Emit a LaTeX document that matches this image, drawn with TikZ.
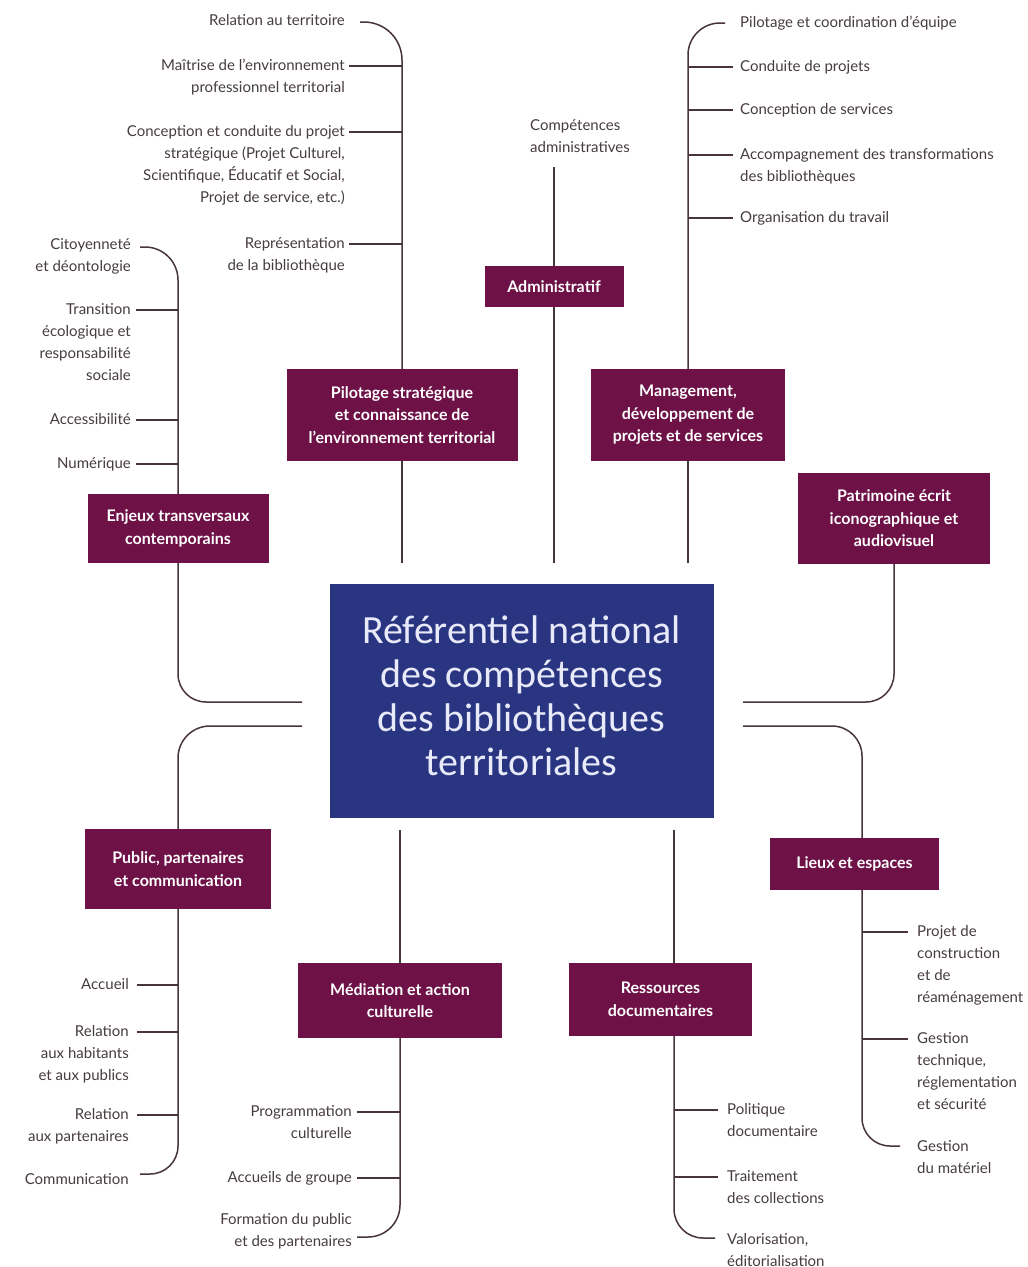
\documentclass[tikz,border=0pt]{standalone}
\usepackage{fontspec}
\setmainfont{Lato}
\newfontfamily\ctrfont{Carlito}
\definecolor{plum}{RGB}{109,17,71}
\definecolor{navy}{RGB}{41,53,128}
\definecolor{hubtext}{RGB}{232,234,250}
\definecolor{lncol}{RGB}{72,52,62}
\definecolor{lblcol}{RGB}{70,60,66}
\newcommand\fstrut{\rule{0pt}{13pt}}
\begin{document}
\begin{tikzpicture}[x=1pt,y=-1pt,
  cat/.style={rectangle, fill=plum, text=white, font=\bfseries\fontsize{16}{22.5}\selectfont, align=center, inner sep=0pt},
  hub/.style={rectangle, fill=navy, text=hubtext, font=\ctrfont\fontsize{40}{44}\selectfont, align=center, inner sep=0pt, minimum width=384pt, minimum height=234pt},
  lblR/.style={font=\fontsize{15}{22}\selectfont, text=lblcol, inner sep=0pt, align=right, anchor=north east, yshift=9pt},
  lblL/.style={font=\fontsize{15}{22}\selectfont, text=lblcol, inner sep=0pt, align=left, anchor=north west, yshift=9pt},
  conn/.style={draw=lncol, line width=1.5pt},
]
\useasboundingbox (0,0) rectangle (1028,1267);
\fill[white] (0,0) rectangle (1028,1267);

% ---------- boxes ----------
\node[hub] (hub) at (521.5,701) {Référentiel national\\des compétences\\des bibliothèques\\territoriales\rule[-10pt]{0pt}{10pt}};
\node[cat, minimum width=139pt, minimum height=41pt] (adm) at (554,286.5) {Administratif};
\node[cat, minimum width=231pt, minimum height=92pt] (pil) at (402,415) {Pilotage stratégique\\et connaissance de\\l'environnement territorial};
\node[cat, minimum width=194pt, minimum height=92pt] (man) at (688,415) {Management,\\développement de\\projets et de services};
\node[cat, minimum width=192pt, minimum height=91pt] (pat) at (894,518.5) {Patrimoine écrit\\iconographique et\\audiovisuel};
\node[cat, minimum width=181pt, minimum height=69pt] (enj) at (178,528.5) {Enjeux transversaux\\contemporains};
\node[cat, minimum width=186pt, minimum height=80pt] (pub) at (178,869) {Public, partenaires\\et communication};
\node[cat, minimum width=204pt, minimum height=75pt] (med) at (400,1000.5) {Médiation et action\\culturelle};
\node[cat, minimum width=183pt, minimum height=73pt] (res) at (660.5,999.5) {Ressources\\documentaires};
\node[cat, minimum width=169pt, minimum height=52pt] (lie) at (854.5,864) {Lieux et espaces};

% ---------- coordinates near the hub ----------
\coordinate (hPil) at (402,563);
\coordinate (hAdm) at (554,563);
\coordinate (hMan) at (688,563);
\coordinate (hL1) at (302,702);
\coordinate (hL2) at (302,726);
\coordinate (hR1) at (743,702);
\coordinate (hR2) at (743,726);
\coordinate (hMed) at (400,830);
\coordinate (hRes) at (674,830);

% ---------- Administratif ----------
\coordinate (admTop) at (554,167);
\node[lblL] (cadm) at (530,126) {\fstrut Compétences\\administratives};
\draw[conn] (adm.north) -- (admTop);
\draw[conn] (adm.south) -- (hAdm);

% ---------- Pilotage ----------
\coordinate (pSp) at (402,22);
\coordinate (P0t) at (360,22);
\coordinate (P1t) at (349,66);
\coordinate (P2t) at (349,132);
\coordinate (P3t) at (349,244);
\node[lblR] (P0) at (345,21) {\fstrut Relation au territoire};
\node[lblR] (P1) at (345,66) {\fstrut Maîtrise de l'environnement\\professionnel territorial};
\node[lblR] (P2) at (345,132) {\fstrut Conception et conduite du projet\\stratégique (Projet Culturel,\\Scientifique, Éducatif et Social,\\Projet de service, etc.)};
\node[lblR] (P3) at (345,244) {\fstrut Représentation\\de la bibliothèque};
\draw[conn, rounded corners=38pt] (pil.north) -- (pSp) -- (P0t);
\draw[conn] (P1t) -- (P1t -| pSp);
\draw[conn] (P2t) -- (P2t -| pSp);
\draw[conn] (P3t) -- (P3t -| pSp);
\draw[conn] (pil.south) -- (hPil);

% ---------- Management ----------
\coordinate (mSp) at (688,23);
\coordinate (M0t) at (725,23);
\coordinate (M1t) at (733,67);
\coordinate (M2t) at (733,110);
\coordinate (M3t) at (733,155);
\coordinate (M4t) at (733,218);
\node[lblL] (M0) at (740,23) {\fstrut Pilotage et coordination d'équipe};
\node[lblL] (M1) at (740,67) {\fstrut Conduite de projets};
\node[lblL] (M2) at (740,110) {\fstrut Conception de services};
\node[lblL] (M3) at (740,155) {\fstrut Accompagnement des transformations\\des bibliothèques};
\node[lblL] (M4) at (740,218) {\fstrut Organisation du travail};
\draw[conn, rounded corners=32pt] (man.north) -- (mSp) -- (M0t);
\draw[conn] (M1t) -- (M1t -| mSp);
\draw[conn] (M2t) -- (M2t -| mSp);
\draw[conn] (M3t) -- (M3t -| mSp);
\draw[conn] (M4t) -- (M4t -| mSp);
\draw[conn] (man.south) -- (hMan);

% ---------- Patrimoine ----------
\coordinate (patC) at (894,702);
\draw[conn, rounded corners=28pt] (pat.south) -- (patC) -- (hR1);

% ---------- Enjeux ----------
\coordinate (eSp) at (178,247);
\coordinate (eC) at (178,702);
\coordinate (E0t) at (140,247);
\coordinate (E1t) at (136,310);
\coordinate (E2t) at (136,420);
\coordinate (E3t) at (136,464);
\node[lblR] (E0) at (131,245) {\fstrut Citoyenneté\\et déontologie};
\node[lblR] (E1) at (131,310) {\fstrut Transition\\écologique et\\responsabilité\\sociale};
\node[lblR] (E2) at (131,420) {\fstrut Accessibilité};
\node[lblR] (E3) at (131,464) {\fstrut Numérique};
\draw[conn, rounded corners=33pt] (enj.north) -- (eSp) -- (E0t);
\draw[conn] (E1t) -- (E1t -| eSp);
\draw[conn] (E2t) -- (E2t -| eSp);
\draw[conn] (E3t) -- (E3t -| eSp);
\draw[conn, rounded corners=28pt] (enj.south) -- (eC) -- (hL1);

% ---------- Public ----------
\coordinate (uC) at (178,726);
\coordinate (uSp) at (178,1174);
\coordinate (U4t) at (140,1174);
\coordinate (U1t) at (137,985);
\coordinate (U2t) at (137,1032);
\coordinate (U3t) at (137,1115);
\node[lblR] (U1) at (129,985) {\fstrut Accueil};
\node[lblR] (U2) at (129,1032) {\fstrut Relation\\aux habitants\\et aux publics};
\node[lblR] (U3) at (129,1115) {\fstrut Relation\\aux partenaires};
\node[lblR] (U4) at (129,1180) {\fstrut Communication};
\draw[conn, rounded corners=32pt] (hL2) -- (uC) -- (pub.north);
\draw[conn, rounded corners=28pt] (pub.south) -- (uSp) -- (U4t);
\draw[conn] (U1t) -- (U1t -| uSp);
\draw[conn] (U2t) -- (U2t -| uSp);
\draw[conn] (U3t) -- (U3t -| uSp);

% ---------- Mediation ----------
\coordinate (dSp) at (400,1237);
\coordinate (D3t) at (357,1237);
\coordinate (D1t) at (357,1112);
\coordinate (D2t) at (357,1178);
\node[lblR] (D1) at (352,1112) {\fstrut Programmation\\culturelle};
\node[lblR] (D2) at (352,1178) {\fstrut Accueils de groupe};
\node[lblR] (D3) at (352,1220) {\fstrut Formation du public\\et des partenaires};
\draw[conn] (hMed) -- (med.north);
\draw[conn, rounded corners=32pt] (med.south) -- (dSp) -- (D3t);
\draw[conn] (D1t) -- (D1t -| dSp);
\draw[conn] (D2t) -- (D2t -| dSp);

% ---------- Ressources ----------
\coordinate (rSp) at (674,1238);
\coordinate (R3t) at (715,1238);
\coordinate (R1t) at (718,1110);
\coordinate (R2t) at (718,1177);
\node[lblL] (R1) at (727,1110) {\fstrut Politique\\documentaire};
\node[lblL] (R2) at (727,1177) {\fstrut Traitement\\des collections};
\node[lblL] (R3) at (727,1240) {\fstrut Valorisation,\\éditorialisation};
\draw[conn] (hRes) -- (res.north -| rSp);
\draw[conn, rounded corners=29pt] (res.south -| rSp) -- (rSp) -- (R3t);
\draw[conn] (R1t) -- (R1t -| rSp);
\draw[conn] (R2t) -- (R2t -| rSp);

% ---------- Lieux ----------
\coordinate (lC) at (862,726);
\coordinate (lSp) at (862,1146);
\coordinate (L3t) at (900,1146);
\coordinate (L1t) at (908,932);
\coordinate (L2t) at (908,1039);
\node[lblL] (L1) at (917,932) {\fstrut Projet de\\construction\\et de\\réaménagement};
\node[lblL] (L2) at (917,1039) {\fstrut Gestion\\technique,\\réglementation\\et sécurité};
\node[lblL] (L3) at (917,1147) {\fstrut Gestion\\du matériel};
\draw[conn, rounded corners=30pt] (hR2) -- (lC) -- (lie.north -| lC);
\draw[conn, rounded corners=28pt] (lie.south -| lC) -- (lSp) -- (L3t);
\draw[conn] (L1t) -- (L1t -| lSp);
\draw[conn] (L2t) -- (L2t -| lSp);
\end{tikzpicture}
\end{document}
